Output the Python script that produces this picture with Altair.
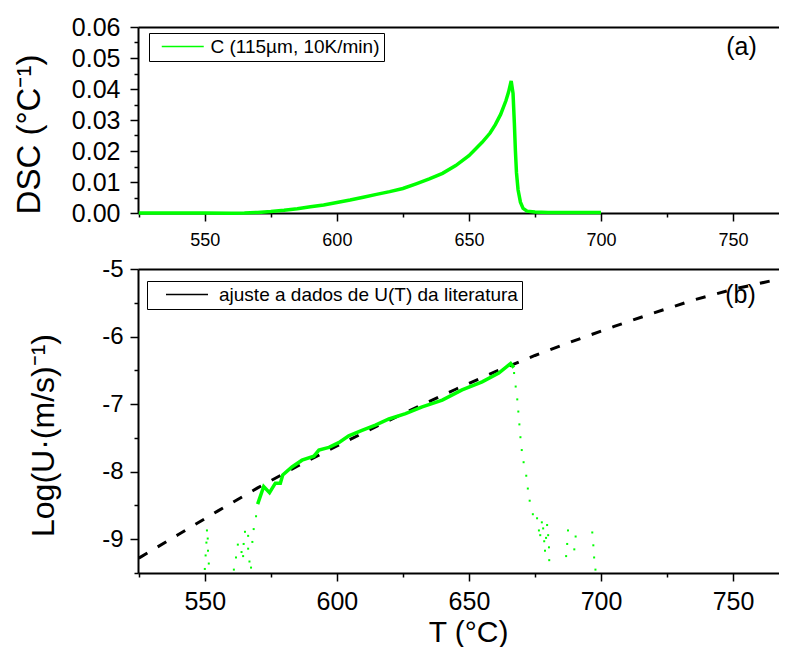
import altair as alt
import pandas as pd

FONT = "Liberation Sans"
GREEN = "#00ff00"

# ---------------- data ----------------
# panel (a): DSC curve
dsc_T = [525, 540, 550, 560, 565, 570, 575, 580, 585, 590, 595, 600, 605, 610, 615,
         620, 625, 630, 635, 640, 645, 650, 655, 658, 660, 662, 664, 665, 666, 666.7,
         667.2, 667.6, 668.0, 668.6, 669.5, 670.5, 672, 675, 680, 690, 700]
dsc_val = [0, 0, 0, -0.0001, 0, 0.0002, 0.0005, 0.0009, 0.0014, 0.0020, 0.0026, 0.0034,
           0.0042, 0.0051, 0.0060, 0.0069, 0.0079, 0.0094, 0.0110, 0.0128, 0.0153, 0.0185,
           0.0228, 0.0258, 0.0285, 0.0318, 0.0362, 0.0390, 0.0426, 0.0386, 0.029, 0.020,
           0.013, 0.0075, 0.0035, 0.0015, 0.0006, 0.0003, 0.0002, 0.0002, 0.0002]
dsc_series = ["C (115µm, 10K/min)"]

# panel (b): literature fit of U(T)
fit_T = [525, 540, 555, 570, 585, 600, 615, 630, 645, 660, 675, 690, 705, 720, 735, 750, 765, 771]
fit_val = [-9.28, -8.93, -8.58, -8.24, -7.92, -7.62, -7.33, -7.05, -6.78, -6.52, -6.28,
           -6.06, -5.85, -5.65, -5.46, -5.30, -5.17, -5.11]
fit_series = ["ajuste a dados de U(T) da literatura"]

# panel (b): continuous part of Log(U)
u_T = [570.0, 572.3, 574.5, 576.7, 578.6, 579.5, 583, 586.8, 591.3, 593.2, 597, 600.7,
       604.5, 609.5, 614.6, 619.7, 626, 632.3, 639.9, 647.4, 655, 661.3, 665.8, 667]
u_val = [-8.48, -8.22, -8.31, -8.17, -8.17, -8.05, -7.93, -7.83, -7.77, -7.68, -7.64,
         -7.57, -7.47, -7.39, -7.31, -7.22, -7.14, -7.04, -6.94, -6.79, -6.67, -6.54,
         -6.40, -6.46]

# panel (b): scattered (dotted) parts of Log(U)
pts_T = [550.0, 550.3, 551.5, 551.2, 550.6, 551.1, 550.8,
         561.0, 561.8, 562.5, 563.9, 564.5, 564.7, 565.2, 566.4, 566.4, 566.9, 567.5, 568.0, 568.5, 569.4,
         667.1, 667.7, 668.3, 668.7, 669.1, 669.5, 670.0, 670.7, 671.7, 672.3, 673.0, 674.2, 675.8,
         677.6, 679.6, 678.1, 676.5, 677.0, 680.0, 679.2, 678.5, 680.3, 678.8, 680.4,
         686.8, 687.2, 687.5, 690.4, 689.9, 696.7, 697.1, 697.4, 697.9]
pts_val = [-9.44, -9.24, -9.36, -9.17, -9.05, -8.99, -8.87,
           -9.45, -9.27, -9.08, -9.19, -9.25, -9.07, -8.89, -8.95, -9.14, -9.33, -9.42, -9.04, -8.85, -8.66,
           -6.54, -6.74, -6.93, -7.11, -7.30, -7.49, -7.68, -7.86, -8.06, -8.25, -8.43, -8.63, -8.69,
           -8.75, -8.79, -8.84, -8.87, -8.94, -8.94, -8.98, -9.03, -9.12, -9.17, -9.31,
           -9.25, -9.07, -8.87, -8.96, -9.15, -8.90, -9.09, -9.27, -9.45]

# panel tags
tag_a_T, tag_a_v, tag_a = [753.2], [0.0535], ["(a)"]
tag_b_T, tag_b_v, tag_b = [752.8], [-5.385], ["(b)"]

# axis ticks
x_ticks = [525, 550, 575, 600, 625, 650, 675, 700, 725, 750]
dsc_ticks = [round(0.005 * i, 3) for i in range(13)]
logu_ticks = [-9.5, -9, -8.5, -8, -7.5, -7, -6.5, -6, -5.5, -5]

X_DOMAIN = [524.7, 767.4]
W = 641

dsc_df = pd.DataFrame({"T": dsc_T, "v": dsc_val, "series": dsc_series * len(dsc_T)})
fit_df = pd.DataFrame({"T": fit_T, "v": fit_val})
u_df = pd.DataFrame({"T": u_T, "v": u_val})
pts_df = pd.DataFrame({"T": pts_T, "v": pts_val})
leg_df = pd.DataFrame({"series": fit_series})
a_df = pd.DataFrame({"T": tag_a_T, "v": tag_a_v, "t": tag_a})
b_df = pd.DataFrame({"T": tag_b_T, "v": tag_b_v, "t": tag_b})

xscale = alt.Scale(domain=X_DOMAIN, nice=False, zero=False)
y1scale = alt.Scale(domain=[0, 0.06], nice=False, zero=False)
y2scale = alt.Scale(domain=[-9.5, -5], nice=False, zero=False)

common_axis = dict(domainColor="black", domainWidth=2, tickColor="black", tickWidth=1.5,
                   labelColor="black", titleColor="black", labelFont=FONT, titleFont=FONT,
                   titleFontWeight="normal", grid=False, labelOverlap=False, labelFlush=False)

x_major = "datum.value % 50 == 0"
x_axis_top_panel = alt.Axis(orient="bottom", values=x_ticks, title=None,
                            labelExpr=f"{x_major} ? datum.label : ''",
                            tickSize={"condition": {"test": x_major, "value": 8}, "value": 4},
                            labelFontSize=18, labelPadding=10, **common_axis)
x_axis_bot_panel = alt.Axis(orient="bottom", values=x_ticks, title="T (°C)",
                            labelExpr=f"{x_major} ? datum.label : ''",
                            tickSize={"condition": {"test": x_major, "value": 8}, "value": 4},
                            labelFontSize=25, labelPadding=8, titleFontSize=30,
                            titleX=330, titleY=44, titleBaseline="top", titleAlign="center",
                            **common_axis)
x_axis_frame = alt.Axis(orient="top", values=x_ticks, title=None, labels=False, ticks=False,
                        domainColor="black", domainWidth=2, grid=False)

y1_major = "abs(datum.value*100 - round(datum.value*100)) < 0.000001"
y1_axis = alt.Axis(orient="left", values=dsc_ticks, title="DSC (°C⁻¹)",
                   labelExpr=f"{y1_major} ? format(datum.value, '.2f') : ''",
                   tickSize={"condition": {"test": y1_major, "value": 8}, "value": 4},
                   labelFontSize=25, labelPadding=10, titleFontSize=33, titleAngle=270,
                   titleX=-124.6, titleY=107, titleBaseline="top", titleAlign="center",
                   **common_axis)
y2_major = "datum.value % 1 == 0"
y2_axis = alt.Axis(orient="left", values=logu_ticks, title="Log(U·(m/s)⁻¹)",
                   labelExpr=f"{y2_major} ? '' + datum.value : ''",
                   tickSize={"condition": {"test": y2_major, "value": 8}, "value": 4},
                   labelFontSize=24, labelPadding=7, titleFontSize=32, titleAngle=270,
                   titleX=-110, titleY=166, titleBaseline="top", titleAlign="center",
                   **common_axis)

legend_common = dict(title=None, orient="none", symbolType="M-3,0H3", symbolSize=196,
                     strokeColor="black", fillColor="white", labelLimit=0,
                     padding=4, cornerRadius=0, labelFontSize=19, labelFont=FONT,
                     labelColor="black")

# ---------------- panel (a) ----------------
dsc_line = alt.Chart(dsc_df).mark_line(strokeWidth=3.5).encode(
    x=alt.X("T:Q", scale=xscale, axis=x_axis_top_panel),
    y=alt.Y("v:Q", scale=y1scale, axis=y1_axis),
    stroke=alt.Stroke("series:N", scale=alt.Scale(domain=dsc_series, range=[GREEN]),
                      legend=alt.Legend(legendX=11, legendY=6, symbolOffset=20.25,
                                        labelOffset=18.25, **legend_common)),
    order="T:Q",
)
tag_a_text = alt.Chart(a_df).mark_text(fontSize=25, font=FONT, color="black",
                                       align="center", baseline="middle").encode(
    x=alt.X("T:Q", scale=xscale, axis=x_axis_frame),
    y=alt.Y("v:Q", scale=y1scale, axis=y1_axis),
    text="t:N",
)
top = alt.layer(dsc_line, tag_a_text).properties(width=W, height=186)

# ---------------- panel (b) ----------------
fit_line = alt.Chart(fit_df).mark_line(strokeWidth=3, strokeDash=[10, 12], color="black",
                                       clip=True).encode(
    x=alt.X("T:Q", scale=xscale, axis=x_axis_bot_panel),
    y=alt.Y("v:Q", scale=y2scale, axis=y2_axis),
)
u_line = alt.Chart(u_df).mark_line(strokeWidth=3.5, color=GREEN).encode(
    x=alt.X("T:Q", scale=xscale, axis=None),
    y=alt.Y("v:Q", scale=y2scale, axis=y2_axis),
)
u_pts = alt.Chart(pts_df).mark_square(size=4, color=GREEN, opacity=1).encode(
    x=alt.X("T:Q", scale=xscale, axis=None),
    y=alt.Y("v:Q", scale=y2scale, axis=y2_axis),
)
fit_legend = alt.Chart(leg_df).mark_line(strokeWidth=1, strokeDash=[3, 2]).encode(
    stroke=alt.Stroke("series:N", scale=alt.Scale(domain=fit_series, range=["black"]),
                      legend=alt.Legend(legendX=9, legendY=12, symbolOffset=26.5,
                                        labelOffset=22.5, **legend_common)),
)
tag_b_text = alt.Chart(b_df).mark_text(fontSize=25, font=FONT, color="black",
                                       align="center", baseline="middle").encode(
    x=alt.X("T:Q", scale=xscale, axis=x_axis_frame),
    y=alt.Y("v:Q", scale=y2scale, axis=y2_axis),
    text="t:N",
)
bottom = alt.layer(fit_line, u_line, u_pts, fit_legend, tag_b_text).properties(width=W, height=304)

chart = alt.vconcat(top, bottom, spacing=56, bounds="flush").resolve_scale(
    stroke="independent"
).properties(
    padding={"left": 5, "top": 7, "right": 0, "bottom": 0}
).configure(font=FONT).configure_view(stroke=None)

chart.save("out.html", embed_options={"renderer": "svg", "actions": False})
